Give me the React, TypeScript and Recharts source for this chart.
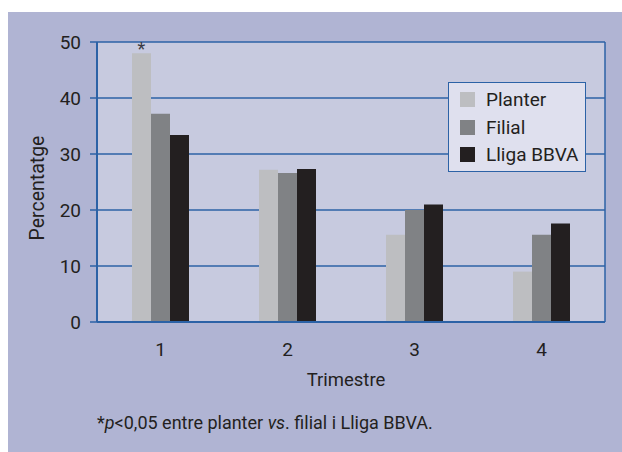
import React from "react";
import {
  Bar,
  BarChart,
  CartesianGrid,
  LabelList,
  XAxis,
  YAxis,
} from "recharts";

const trimestres = ["1", "2", "3", "4"];
const planter = [48, 27.2, 15.6, 9];
const filial = [37.2, 26.6, 20, 15.6];
const lliga = [33.4, 27.3, 21, 17.6];
const signif = ["*", "", "", ""];
const yTicks = [0, 10, 20, 30, 40, 50];

const seriesNames = ["Planter", "Filial", "Lliga BBVA"];
const seriesColors = ["#bdbec1", "#808285", "#231f20"];

const data = trimestres.map((t, i) => ({
  trimestre: t,
  planter: planter[i],
  filial: filial[i],
  lliga: lliga[i],
  signif: signif[i],
}));

const FONT = "Roboto, 'Liberation Sans', sans-serif";
const BLUE = "#2c62a6";
const TEXT = "#231f20";

function LegendBox() {
  return (
    <div
      style={{
        position: "absolute",
        left: 448,
        top: 82,
        width: 138,
        height: 90,
        background: "#dfe0ee",
        border: `1.5px solid ${BLUE}`,
        padding: "3px 0 0 11px",
        boxSizing: "border-box",
        fontFamily: FONT,
        fontSize: 19,
        color: TEXT,
      }}
    >
      {seriesNames.map((name, i) => (
        <div
          key={name}
          style={{ display: "flex", alignItems: "center", height: 27.5 }}
        >
          <span
            style={{
              width: 15,
              height: 15,
              background: seriesColors[i],
              marginRight: 11,
              display: "inline-block",
            }}
          />
          {name}
        </div>
      ))}
    </div>
  );
}

function YTitle() {
  return (
    <text
      x={37}
      y={188}
      transform="rotate(-90 37 188)"
      textAnchor="middle"
      dominantBaseline="central"
      fill={TEXT}
      fontSize={19.5}
      fontFamily={FONT}
    >
      Percentatge
    </text>
  );
}

export default function App() {
  return (
    <div
      style={{
        position: "absolute",
        left: 0,
        top: 0,
        width: 622,
        height: 452,
        background: "#ffffff",
        overflow: "hidden",
      }}
    >
      <div
        style={{
          position: "absolute",
          left: 8,
          top: 12,
          width: 614,
          height: 440,
          background: "#b0b4d3",
        }}
      />
      <div style={{ position: "absolute", left: 0, top: 0 }}>
        <BarChart
          width={622}
          height={452}
          data={data}
          margin={{ top: 42, right: 17, left: 0, bottom: 70 }}
          barGap={0}
          barSize={19}
          style={{ fontFamily: FONT }}
        >
          <CartesianGrid
            fill="#c7cadf"
            stroke={BLUE}
            strokeWidth={1.5}
            strokeDasharray=""
            verticalCoordinatesGenerator={({ offset }: any) => [
              offset.left + offset.width,
            ]}
          />
          <XAxis
            dataKey="trimestre"
            height={60}
            tickLine={false}
            tickSize={0}
            tickMargin={21}
            axisLine={{ stroke: BLUE, strokeWidth: 2 }}
            tick={{ fill: TEXT, fontSize: 19 }}
            label={{
              value: "Trimestre",
              position: "insideBottom",
              offset: -4,
              dx: -5,
              fill: TEXT,
              fontSize: 18.5,
            }}
          />
          <YAxis
            width={97}
            domain={[0, 50]}
            ticks={yTicks}
            tickSize={7}
            tickMargin={9}
            tickLine={{ stroke: BLUE, strokeWidth: 1.5 }}
            axisLine={{ stroke: BLUE, strokeWidth: 2 }}
            tick={{ fill: TEXT, fontSize: 19 }}
            label={{ content: () => <YTitle /> }}
          />
          <Bar
            dataKey="planter"
            name={seriesNames[0]}
            fill={seriesColors[0]}
            isAnimationActive={false}
          >
            <LabelList
              dataKey="signif"
              position="top"
              offset={-2}
              fill="#3a3a44"
              fontSize={18}
            />
          </Bar>
          <Bar
            dataKey="filial"
            name={seriesNames[1]}
            fill={seriesColors[1]}
            isAnimationActive={false}
          />
          <Bar
            dataKey="lliga"
            name={seriesNames[2]}
            fill={seriesColors[2]}
            isAnimationActive={false}
          />
        </BarChart>
      </div>
      <LegendBox />
      <div
        style={{
          position: "absolute",
          left: 97,
          top: 412,
          fontFamily: FONT,
          fontSize: 18,
          color: TEXT,
        }}
      >
        *<i>p</i>&lt;0,05 entre planter <i>vs</i>. filial i Lliga BBVA.
      </div>
    </div>
  );
}
